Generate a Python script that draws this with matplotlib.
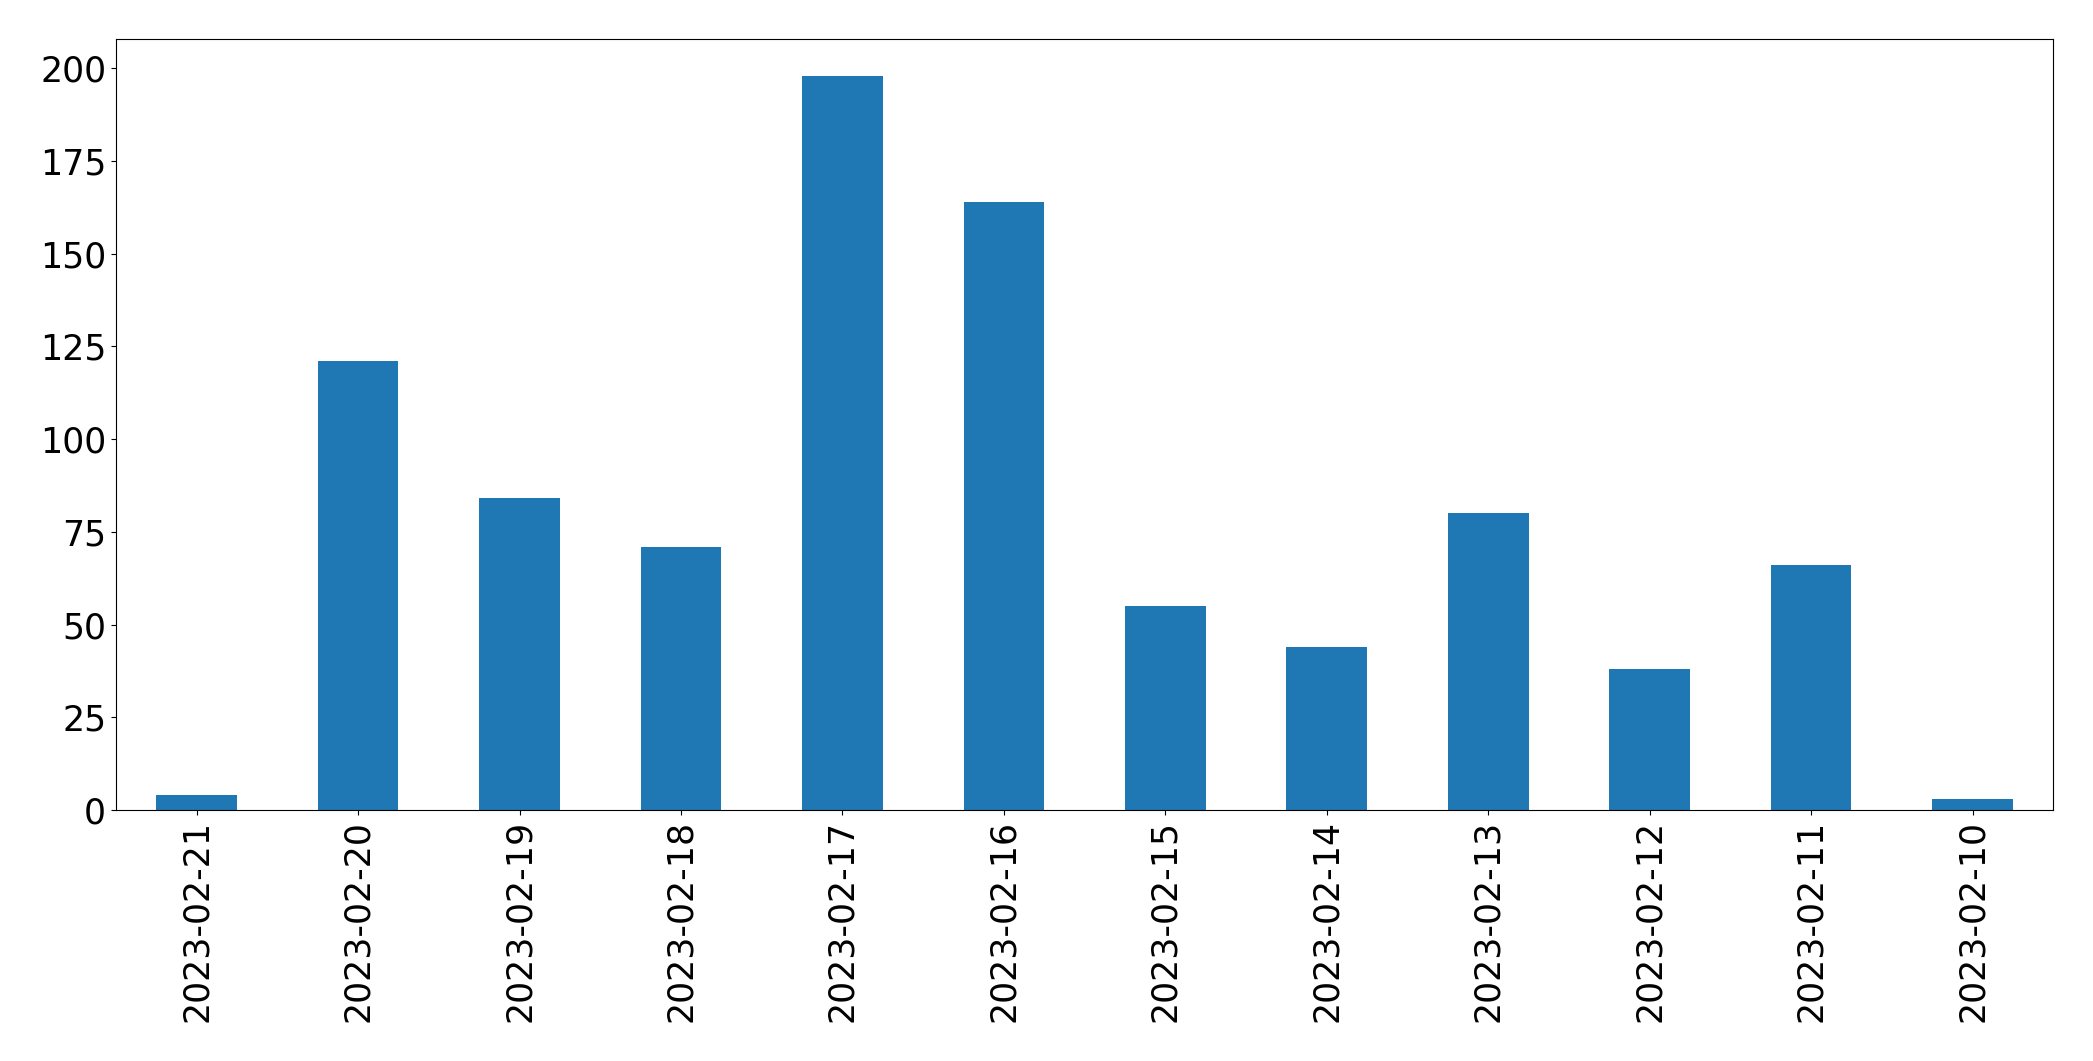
import pandas as pd
import matplotlib
matplotlib.use("Agg")
import matplotlib.pyplot as plt

# Daily counts, newest date first (as in the original)
dates = ['2023-02-21', '2023-02-20', '2023-02-19', '2023-02-18', '2023-02-17', '2023-02-16',
         '2023-02-15', '2023-02-14', '2023-02-13', '2023-02-12', '2023-02-11', '2023-02-10']
counts = [4, 121, 84, 71, 198, 164, 55, 44, 80, 38, 66, 3]

s = pd.Series(counts, index=dates)

fig = plt.figure(figsize=(20.93, 10.61), dpi=100)
ax = fig.add_axes([0.0554, 0.2366, 0.9256, 0.7266])
s.plot(kind='bar', ax=ax, color='#1f77b4')
ax.tick_params(axis='both', labelsize=25)
ax.set_ylim(0, 207.9)

fig.savefig("out.png", dpi=100)
